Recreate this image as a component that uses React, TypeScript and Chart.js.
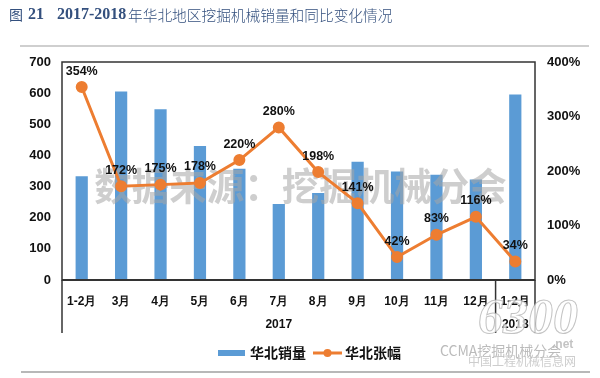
import React, { useEffect, useRef } from "react";
import { Chart, registerables } from "chart.js";

Chart.register(...registerables);

const categories = ["1-2月", "3月", "4月", "5月", "6月", "7月", "8月", "9月", "10月", "11月", "12月", "1-2月"];
const yearLabels = ["2017", "2018"];
const yearSpans = [11, 1];
const sales = [333, 605, 548, 430, 357, 244, 279, 380, 348, 338, 323, 596];
const growth = [354, 172, 175, 178, 220, 280, 198, 141, 42, 83, 116, 34];
const leftTicks = [0, 100, 200, 300, 400, 500, 600, 700];
const rightTicks = [0, 100, 200, 300, 400];

const BLUE = "#5b9bd5";
const ORANGE = "#ed7d31";
const CJK = '"Noto Sans CJK SC", sans-serif';

const decorPlugin = {
  id: "decor",
  beforeDraw(chart: any) {
    const ctx = chart.ctx;
    ctx.save();
    ctx.fillStyle = "#ffffff";
    ctx.fillRect(0, 0, chart.width, chart.height);
    // title
    const tc = "#34507e";
    ctx.fillStyle = tc;
    ctx.textBaseline = "middle";
    ctx.textAlign = "left";
    ctx.font = `14px ${CJK}`;
    ctx.fillText("图", 9, 15);
    ctx.font = 'bold 16px "Liberation Serif", serif';
    ctx.fillText("21", 28, 15);
    ctx.fillText("2017-2018", 57, 15);
    ctx.font = `300 14.7px ${CJK}`;
    ctx.fillText("年华北地区挖掘机械销量和同比变化情况", 128, 15);
    // lines
    ctx.strokeStyle = "#cfcfcf";
    ctx.lineWidth = 2;
    ctx.beginPath();
    ctx.moveTo(20, 46);
    ctx.lineTo(589, 46);
    ctx.stroke();
    ctx.strokeStyle = "#b8b8b8";
    ctx.beginPath();
    ctx.moveTo(21, 372);
    ctx.lineTo(590, 372);
    ctx.stroke();
    ctx.restore();
  },
  afterDatasetDraw(chart: any, args: any) {
    if (args.index !== 0) return;
    const ctx = chart.ctx;
    const a = chart.chartArea;
    ctx.save();
    ctx.font = `bold 37.5px ${CJK}`;
    ctx.fillStyle = "rgba(165,165,165,0.55)";
    ctx.textAlign = "center";
    ctx.textBaseline = "middle";
    ctx.fillText("数据来源：挖掘机械分会", (a.left + a.right) / 2 + 2, 186);
    ctx.restore();
  },
  afterDatasetsDraw(chart: any) {
    const ctx = chart.ctx;
    const a = chart.chartArea;
    ctx.save();
    // frame
    ctx.strokeStyle = "#333333";
    ctx.lineWidth = 1.5;
    ctx.strokeRect(a.left, a.top, a.right - a.left, a.bottom - a.top);
    ctx.lineWidth = 2;
    ctx.beginPath();
    ctx.moveTo(a.left, a.bottom);
    ctx.lineTo(a.right, a.bottom);
    ctx.stroke();
    // group separators
    const step = (a.right - a.left) / categories.length;
    ctx.lineWidth = 1.5;
    let idx = 0;
    const bounds = [a.left];
    yearSpans.forEach((s) => {
      idx += s;
      bounds.push(a.left + idx * step);
    });
    bounds.forEach((x) => {
      ctx.beginPath();
      ctx.moveTo(x, a.bottom);
      ctx.lineTo(x, 333);
      ctx.stroke();
    });
    ctx.fillStyle = "#111";
    ctx.font = "bold 12px Arial, sans-serif";
    ctx.textAlign = "center";
    ctx.textBaseline = "middle";
    yearLabels.forEach((l, i) => {
      ctx.fillText(l, (bounds[i] + bounds[i + 1]) / 2, 325);
    });
    // data labels
    const meta = chart.getDatasetMeta(1);
    ctx.font = "bold 12.5px Arial, sans-serif";
    meta.data.forEach((p: any, i: number) => {
      ctx.fillText(growth[i] + "%", p.x, p.y - 16);
    });
    // legend
    ctx.fillStyle = BLUE;
    ctx.fillRect(218, 350, 27, 6);
    ctx.fillStyle = "#111";
    ctx.textAlign = "left";
    ctx.font = `bold 14px ${CJK}`;
    ctx.fillText("华北销量", 250, 353);
    ctx.strokeStyle = ORANGE;
    ctx.lineWidth = 3;
    ctx.beginPath();
    ctx.moveTo(313, 353);
    ctx.lineTo(342, 353);
    ctx.stroke();
    ctx.fillStyle = ORANGE;
    ctx.beginPath();
    ctx.arc(327.5, 353, 4, 0, Math.PI * 2);
    ctx.fill();
    ctx.fillStyle = "#111";
    ctx.fillText("华北张幅", 345, 353);
    // watermarks bottom right
    ctx.font = 'italic bold 50px "Liberation Serif", serif';
    ctx.textBaseline = "middle";
    ctx.fillStyle = "rgba(255,255,255,0.75)";
    ctx.strokeStyle = "rgba(170,170,170,0.7)";
    ctx.lineWidth = 1;
    ctx.fillText("6300", 478, 320);
    ctx.strokeText("6300", 478, 320);
    ctx.font = 'bold 12px Arial, sans-serif';
    ctx.fillStyle = "rgba(180,180,180,0.8)";
    ctx.fillText(".net", 552, 345);
    ctx.font = `14px ${CJK}`;
    ctx.fillStyle = "rgba(175,175,175,0.85)";
    ctx.fillText("CCMA挖掘机械分会", 440, 351);
    ctx.font = `12px ${CJK}`;
    ctx.fillStyle = "rgba(200,200,200,0.9)";
    ctx.fillText("中国工程机械信息网", 468, 361);
    ctx.restore();
  },
};

export default function App() {
  const ref = useRef<HTMLCanvasElement | null>(null);
  useEffect(() => {
    if (!ref.current) return;
    const chart = new Chart(ref.current, {
      type: "bar",
      data: {
        labels: categories,
        datasets: [
          {
            type: "bar",
            label: "华北销量",
            data: sales,
            backgroundColor: BLUE,
            barPercentage: 0.31,
            categoryPercentage: 1,
            yAxisID: "y",
            order: 2,
          },
          {
            type: "line",
            label: "华北张幅",
            data: growth,
            borderColor: ORANGE,
            backgroundColor: ORANGE,
            borderWidth: 3,
            pointRadius: 4.5,
            pointBackgroundColor: ORANGE,
            pointBorderColor: ORANGE,
            yAxisID: "y1",
            tension: 0,
            order: 1,
          },
        ] as any,
      },
      options: {
        responsive: false,
        animation: false,
        layout: { padding: { top: 62, left: 0, right: 0, bottom: 0 } },
        plugins: { legend: { display: false }, tooltip: { enabled: false }, title: { display: false } },
        scales: {
          x: {
            grid: { display: false, drawTicks: false },
            border: { display: false },
            ticks: { color: "#111", font: { family: "Arial", weight: "bold", size: 12 }, padding: 14, maxRotation: 0, autoSkip: false },
            afterFit: (s: any) => { s.height = 98; },
          },
          y: {
            position: "left",
            min: 0,
            max: 700,
            afterBuildTicks: (s: any) => { s.ticks = leftTicks.map((v) => ({ value: v })); },
            grid: { display: false, drawTicks: false },
            border: { display: false },
            ticks: { color: "#111", font: { family: "Arial", weight: "bold", size: 13 }, padding: 11 },
            afterFit: (s: any) => { s.width = 62; },
          },
          y1: {
            position: "right",
            min: 0,
            max: 400,
            afterBuildTicks: (s: any) => { s.ticks = rightTicks.map((v) => ({ value: v })); },
            grid: { display: false, drawTicks: false },
            border: { display: false },
            ticks: { color: "#111", font: { family: "Arial", weight: "bold", size: 13 }, padding: 12, callback: (v: any) => v + "%" },
            afterFit: (s: any) => { s.width = 65; },
          },
        },
      } as any,
      plugins: [decorPlugin],
    });
    return () => chart.destroy();
  }, []);
  return (
    <div style={{ position: "absolute", left: 0, top: 0, width: 600, height: 378 }}>
      <canvas ref={ref} width={600} height={378} />
    </div>
  );
}
